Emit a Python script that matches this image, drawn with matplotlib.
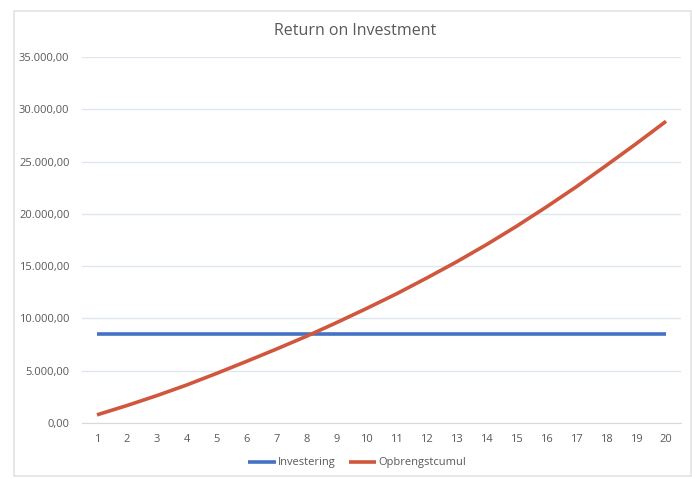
import matplotlib
matplotlib.use("Agg")
import matplotlib.pyplot as plt
from matplotlib.patches import Rectangle
from matplotlib.ticker import FuncFormatter

years = list(range(1, 21))
investering = [8530] * 20
opbrengstcumul = [780, 1670, 2620, 3640, 4750, 5900, 7080, 8300, 9600, 10950,
                  12350, 13850, 15400, 17050, 18800, 20650, 22580, 24620, 26700, 28850]
y_ticks = [0, 5000, 10000, 15000, 20000, 25000, 30000, 35000]

plt.rcParams['font.family'] = ['Open Sans', 'DejaVu Sans']

fig = plt.figure(figsize=(6.92, 4.79), dpi=100)
fig.patches.append(Rectangle((14/692, 3/479), 677/692, 465/479, transform=fig.transFigure,
                             fill=False, edgecolor='#e3e3e3', linewidth=1.2))
ax = fig.add_axes([82/692, 56/479, 599/692, 366/479])

ax.plot(years, investering, color='#4472c4', linewidth=2.6, label='Investering', solid_capstyle='butt')
ax.plot(years, opbrengstcumul, color='#d0573d', linewidth=2.6, label='Opbrengstcumul',
        solid_capstyle='butt', solid_joinstyle='round')

ax.set_xlim(0.5, 20.5)
ax.set_ylim(0, 35000)
ax.set_xticks(years)
ax.set_yticks(y_ticks)

def fmt(v, pos):
    s = f"{v:,.2f}"
    return s.replace(',', 'X').replace('.', ',').replace('X', '.')
ax.yaxis.set_major_formatter(FuncFormatter(fmt))

ax.grid(axis='y', color='#dde6ee', linewidth=1)
ax.set_axisbelow(True)
for side in ['top', 'right', 'left']:
    ax.spines[side].set_visible(False)
ax.spines['bottom'].set_color('#d9d9d9')
ax.tick_params(axis='both', length=0, labelsize=8, colors='#595959')
ax.tick_params(axis='y', pad=9)
ax.tick_params(axis='x', pad=8)

fig.text(355/692, 1 - 31/479, 'Return on Investment', ha='center', va='center',
         fontsize=11.5, color='#595959')

fig.legend(loc='center', bbox_to_anchor=(357/692, 1 - 463/479), ncol=2, frameon=False,
           fontsize=8, labelcolor='#595959', handlelength=2.5, columnspacing=1.2,
           handletextpad=0.15)

fig.savefig('out.png', dpi=100)
